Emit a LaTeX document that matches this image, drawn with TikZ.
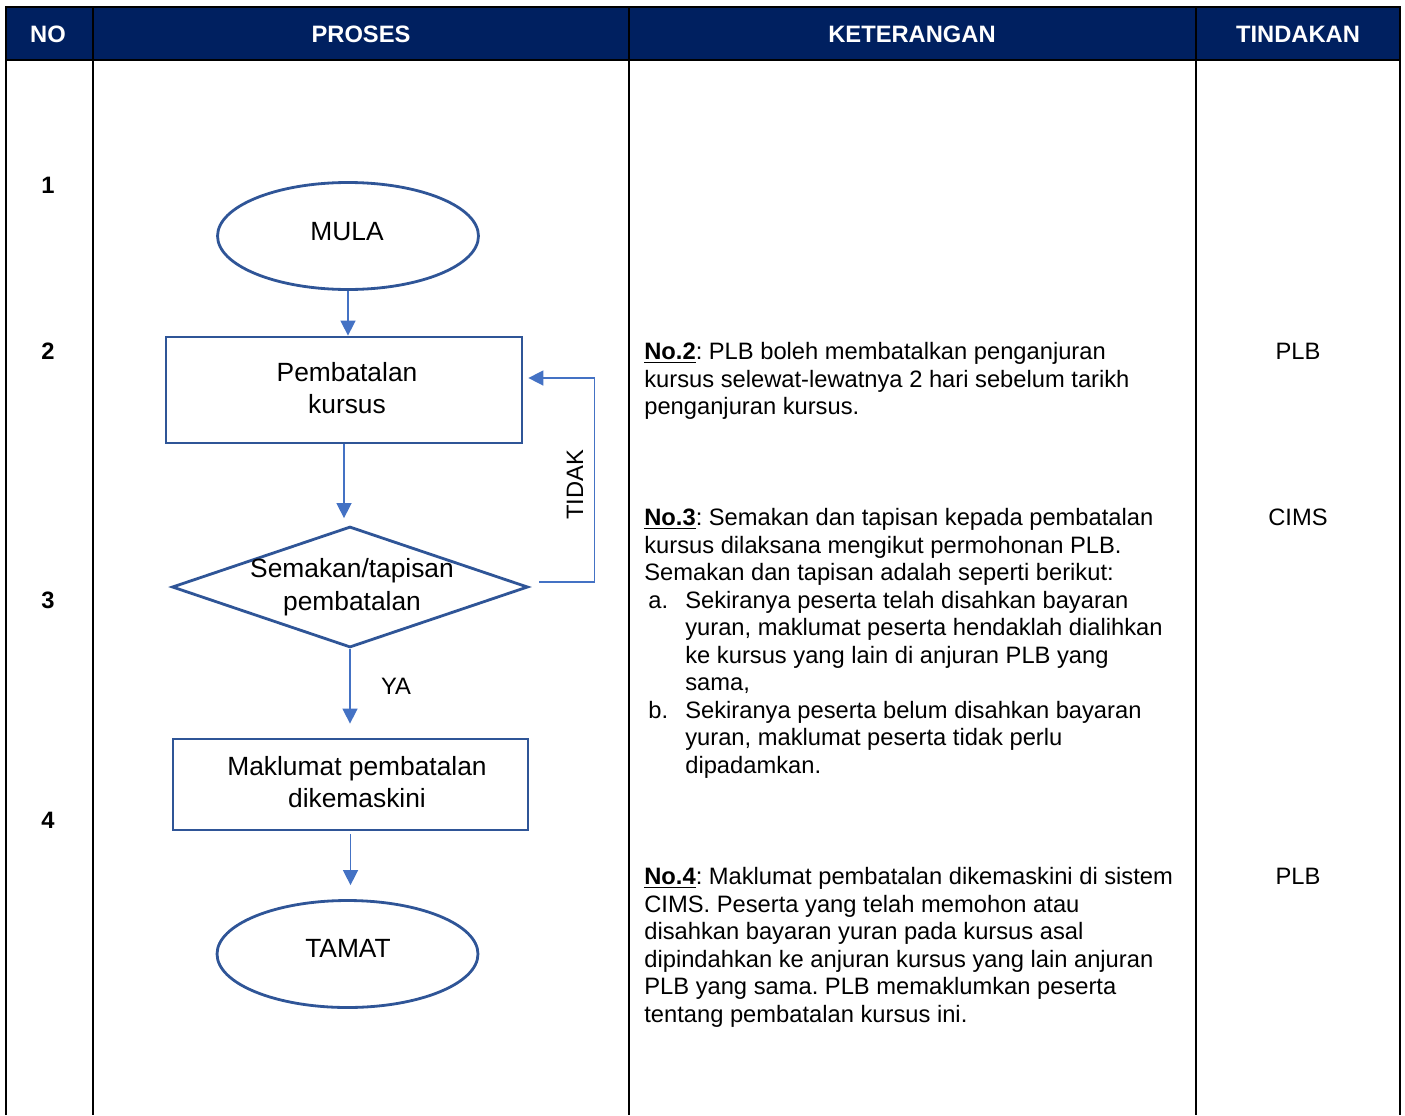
\documentclass[tikz,border=0pt]{standalone}
\usepackage{fontspec}
\setmainfont{Liberation Sans}
\usepackage{xcolor}
\usetikzlibrary{shapes,arrows,positioning,calc,arrows.meta}
\definecolor{headnavy}{HTML}{002060}
\definecolor{shapeblue}{HTML}{2F5597}
\definecolor{arrowblue}{HTML}{4472C4}
\newcommand{\itemlbl}[1]{\makebox[0.82cm][l]{\hspace*{0.08cm}#1}}
\newcommand{\itemcont}{\hspace*{0.82cm}}
\frenchspacing

\begin{document}
\begin{tikzpicture}[x=0.02cm,y=-0.02cm,
    gridline/.style={black,line width=1.4pt},
    headtext/.style={text=white,font=\fontsize{13.5}{16}\selectfont\bfseries},
    numtext/.style={font=\fontsize{13.5}{16}\selectfont\bfseries},
    terminal/.style={ellipse,draw=shapeblue,line width=1.6pt,minimum width=5.22cm,minimum height=2.14cm,inner sep=0pt},
    process/.style={rectangle,draw=shapeblue,line width=1.6pt,inner sep=0pt},
    decision/.style={diamond,draw=shapeblue,line width=1.6pt,inner sep=0pt,minimum width=7.12cm,minimum height=2.42cm},
    flowtext/.style={align=center,inner sep=0pt,font=\fontsize{15}{18.5}\selectfont},
    labeltext/.style={inner sep=0pt,font=\fontsize{13.5}{16}\selectfont},
    note/.style={anchor=north west,align=left,inner sep=0pt,font=\fontsize{13.5}{15.65}\selectfont\frenchspacing},
    flowarrow/.style={draw=arrowblue,line width=0.85pt,-{Triangle[length=8.5pt,width=8.5pt]}}]
    \useasboundingbox (0,0) rectangle (1405,1115);

    % Table
    \fill[headnavy] (6,7) rectangle (1400,60);
    \draw[gridline] (6,1115) -- (6,7) -- (1400,7) -- (1400,1115);
    \draw[gridline] (6,60) -- (1400,60);
    \foreach \cx in {93,629,1196}
        \draw[gridline] (\cx,7) -- (\cx,1115);
    \node[headtext] (hno) at (48,34) {NO};
    \node[headtext] (hproses) at (361,34) {PROSES};
    \node[headtext] (hket) at (912,34) {KETERANGAN};
    \node[headtext] (htindak) at (1298,34) {TINDAKAN};

    % No
    \foreach \n/\ny in {1/185,2/351,3/600,4/820}
        \node[numtext] (no\n) at (48,\ny) {\n};

    % Proses
    \node[terminal] (mula) at (348,236) {};
    \node[flowtext] (mulatxt) at (347,232) {MULA};
    \node[process,minimum width=7.12cm,minimum height=2.12cm] (batal) at (344,390) {};
    \node[flowtext] (bataltxt) at (347,388) {Pembatalan\\kursus};
    \node[decision] (semak) at (350,587) {};
    \node[flowtext] (semaktxt) at (352,587) {Semakan/tapisan\\pembatalan};
    \node[process,minimum width=7.1cm,minimum height=1.82cm] (kemaskini) at (350.5,784.5) {};
    \node[flowtext] (kemaskinitxt) at (357,782) {Maklumat pembatalan\\dikemaskini};
    \node[terminal] (tamat) at (347.5,954) {};
    \node[flowtext] (tamattxt) at (348,948) {TAMAT};

    \draw[flowarrow] (mula.south) -- (mula.south |- batal.north);
    \draw[flowarrow,shorten >=0.14cm] (batal.south) -- (batal.south |- semak.north);
    \draw[flowarrow,shorten >=0.28cm] (semak.south) -- (semak.south |- kemaskini.north);
    \draw[flowarrow,shorten <=0.06cm,shorten >=0.28cm] (kemaskini.south) -- (kemaskini.south |- tamat.north);
    \draw[flowarrow,shorten <=0.2cm,shorten >=0.1cm] ([yshift=0.1cm]semak.east) -- ++(65,0) |- ([yshift=0.24cm]batal.east);
    \node[labeltext] (ya) at (396,686) {YA};
    \node[labeltext,rotate=90] (tidak) at (575,485) {TIDAK};

    % Keterangan
    \node[note] (ket2) at (644,342) {\underline{\textbf{No.2}}: PLB boleh membatalkan penganjuran\\
        kursus selewat-lewatnya 2 hari sebelum tarikh\\
        penganjuran kursus.};
    \node[note] (ket3) at (644,508) {\underline{\textbf{No.3}}: Semakan dan tapisan kepada pembatalan\\
        kursus dilaksana mengikut permohonan PLB.\\
        Semakan dan tapisan adalah seperti berikut:\\
        \itemlbl{a.}Sekiranya peserta telah disahkan bayaran\\
        \itemcont yuran, maklumat peserta hendaklah dialihkan\\
        \itemcont ke kursus yang lain di anjuran PLB yang\\
        \itemcont sama,\\
        \itemlbl{b.}Sekiranya peserta belum disahkan bayaran\\
        \itemcont yuran, maklumat peserta tidak perlu\\
        \itemcont dipadamkan.};
    \node[note] (ket4) at (644,867) {\underline{\textbf{No.4}}: Maklumat pembatalan dikemaskini di sistem\\
        CIMS. Peserta yang telah memohon atau\\
        disahkan bayaran yuran pada kursus asal\\
        dipindahkan ke anjuran kursus yang lain anjuran\\
        PLB yang sama. PLB memaklumkan peserta\\
        tentang pembatalan kursus ini.};

    % Tindakan
    \node[labeltext] (tin2) at (1298,351) {PLB};
    \node[labeltext] (tin3) at (1298,517) {CIMS};
    \node[labeltext] (tin4) at (1298,876) {PLB};
\end{tikzpicture}
\end{document}
